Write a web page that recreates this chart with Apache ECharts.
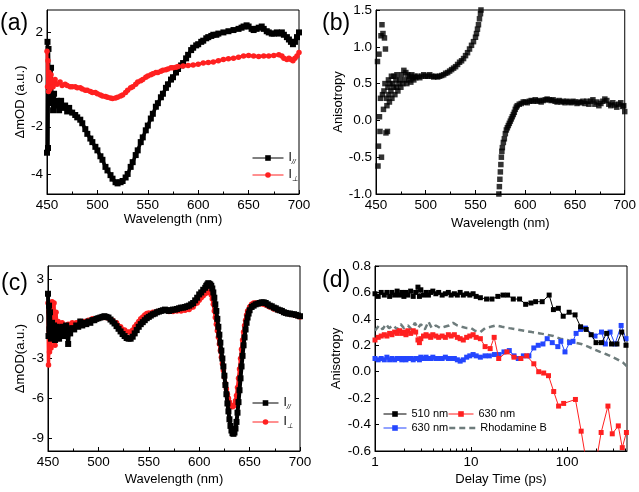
<!DOCTYPE html>
<html><head><meta charset="utf-8">
<script src="https://cdn.jsdelivr.net/npm/echarts@6/dist/echarts.min.js"></script>
<style>html,body{margin:0;padding:0;background:#fff}#c{width:639px;height:492px}</style>
</head><body><div id="c"></div>
<script>
// ---------- DATA ----------
const panelLabels = ['(a)', '(b)', '(c)', '(d)'];
const wavelengthTicks = [450, 500, 550, 600, 650, 700];
const aYTicks = [-4, -2, 0, 2];
const cYTicks = [-9, -6, -3, 0, 3];
const delayTicks = [1, 10, 100];
const delayMinorTicks = [2,3,4,5,6,7,8,9,20,30,40,50,60,70,80,90,200,300,400];
const dLegendNames = ['510 nm', '630 nm', '630 nm', 'Rhodamine B'];

// (a) I parallel
const aPar = [[450,-3.1],[450.5,1.6],[451,-2.9],[451.5,1.3],[452,-0.5],[453,-1.0],[454,0.5],[455,-0.8],[456,-1.3],[457,-0.6],[458,-1.1],[460,-0.9],[462,-1.3],[464,-0.9],[466,-1.2],[468,-1.1],[470,-1.35],[472,-1.2],[475,-1.4],[478,-1.5],[480,-1.6],[483,-1.7],[485,-1.85],[488,-2.1],[490,-2.3],[493,-2.5],[495,-2.65],[498,-2.85],[500,-3.0],[503,-3.25],[505,-3.4],[508,-3.7],[510,-3.85],[513,-4.05],[515,-4.2],[518,-4.35],[520,-4.4],[523,-4.35],[525,-4.3],[528,-4.15],[530,-4.0],[533,-3.7],[535,-3.5],[538,-3.2],[540,-3.0],[543,-2.65],[545,-2.45],[548,-2.15],[550,-1.95],[553,-1.65],[555,-1.45],[558,-1.15],[560,-1.0],[563,-0.75],[565,-0.6],[568,-0.35],[570,-0.2],[573,0.0],[575,0.1],[578,0.3],[580,0.45],[583,0.6],[585,0.7],[588,0.9],[590,1.05],[593,1.25],[595,1.35],[598,1.45],[600,1.5],[603,1.6],[605,1.65],[608,1.75],[610,1.8],[613,1.85],[615,1.9],[618,1.9],[620,1.95],[625,2.0],[630,2.05],[635,2.1],[640,2.15],[643,2.2],[645,2.25],[648,2.3],[650,2.25],[653,2.15],[655,2.1],[658,2.15],[660,2.2],[663,2.25],[665,2.15],[668,2.05],[670,2.0],[673,1.95],[675,1.95],[678,2.0],[680,1.95],[683,2.0],[685,1.9],[688,1.8],[690,1.7],[692,1.6],[694,1.5],[696,1.6],[698,1.8],[700,2.0]];
// (a) I perpendicular
const aPerp = [[450,1.2],[450.5,-0.3],[451,0.8],[451.5,-0.5],[452,0.3],[453,-0.4],[454,0.2],[455,-0.1],[456,-0.3],[458,0.0],[460,-0.2],[463,-0.1],[465,-0.25],[468,-0.2],[470,-0.25],[473,-0.3],[475,-0.3],[478,-0.3],[480,-0.35],[483,-0.35],[485,-0.4],[488,-0.45],[490,-0.45],[493,-0.5],[495,-0.55],[498,-0.55],[500,-0.6],[503,-0.65],[505,-0.7],[508,-0.72],[510,-0.75],[513,-0.78],[515,-0.8],[518,-0.78],[520,-0.75],[523,-0.7],[525,-0.65],[528,-0.55],[530,-0.45],[533,-0.35],[535,-0.3],[538,-0.2],[540,-0.1],[543,-0.05],[545,0.0],[548,0.1],[550,0.15],[553,0.2],[555,0.25],[558,0.3],[560,0.3],[563,0.35],[565,0.4],[568,0.42],[570,0.45],[573,0.5],[575,0.5],[578,0.52],[580,0.55],[585,0.58],[590,0.6],[595,0.62],[600,0.65],[605,0.7],[610,0.72],[615,0.75],[620,0.8],[625,0.85],[630,0.88],[635,0.9],[640,0.95],[645,1.0],[650,1.02],[655,1.0],[660,0.98],[665,1.0],[670,1.0],[675,1.02],[680,1.05],[683,1.0],[685,0.9],[688,0.85],[690,0.9],[692,0.85],[694,0.8],[696,0.9],[698,1.0],[700,1.15]];

// (b) anisotropy
const bAniso = [[451.5,0.8],[452,-0.62],[452.5,-0.35],[453,0.9],[453.5,0.05],[454,-0.15],[454.5,0.3],[455,1.15],[455.5,-0.5],[456,1.3],[456.5,0.35],[457,1.18],[457.5,0.15],[458,0.4],[458.5,1.12],[459,0.5],[459.5,0.97],[460,-0.17],[460.5,0.3],[461,0.2],[461.5,-0.15],[462,0.45],[462.5,0.55],[463,0.35],[463.5,0.25],[464,0.5],[465,0.4],[465.5,0.6],[466,0.3],[467,0.5],[467.5,0.45],[468,0.6],[469,0.35],[470,0.55],[470.5,0.45],[471,0.62],[472,0.4],[473,0.5],[474,0.55],[475,0.45],[476,0.62],[477,0.5],[478,0.68],[479,0.55],[480,0.65],[481,0.5],[482,0.62],[483,0.55],[484,0.6],[485,0.52],[486,0.62],[487,0.58],[488,0.55],[489,0.6],[490,0.58],[492,0.6],[494,0.58],[496,0.6],[498,0.62],[500,0.6],[502,0.6],[504,0.62],[506,0.6],[508,0.59],[510,0.6],[512,0.59],[514,0.6],[516,0.61],[518,0.62],[520,0.64],[522,0.65],[524,0.67],[526,0.69],[528,0.71],[530,0.73],[532,0.76],[534,0.79],[536,0.81],[538,0.84],[540,0.88],[542,0.92],[544,0.97],[546,1.02],[548,1.07],[550,1.13],[551,1.18],[552,1.24],[553,1.3],[554,1.38],[555,1.45],[555.5,1.5],
[573.5,-1.0],[574,-0.9],[574.5,-0.8],[575,-0.7],[575.5,-0.6],[576,-0.5],[576.5,-0.42],[577,-0.37],[578,-0.3],[579,-0.25],[580,-0.18],[581,-0.13],[582,-0.1],[583,-0.07],[584,-0.04],[585,-0.01],[586,0.02],[587,0.05],[588,0.08],[589,0.11],[590,0.15],[591,0.18],[592,0.2],[594,0.22],[596,0.23],[598,0.25],[600,0.25],[602,0.24],[604,0.26],[606,0.27],[608,0.26],[610,0.28],[612,0.26],[614,0.27],[616,0.25],[618,0.27],[620,0.28],[622,0.29],[624,0.28],[626,0.27],[628,0.28],[630,0.26],[632,0.25],[634,0.27],[636,0.25],[638,0.26],[640,0.24],[642,0.26],[644,0.25],[646,0.24],[648,0.26],[650,0.25],[652,0.23],[654,0.25],[656,0.24],[658,0.26],[660,0.23],[662,0.26],[664,0.22],[666,0.26],[668,0.28],[670,0.22],[672,0.25],[674,0.2],[676,0.23],[678,0.26],[680,0.29],[682,0.27],[684,0.22],[686,0.2],[688,0.24],[690,0.21],[692,0.18],[694,0.22],[696,0.24],[698,0.19],[699,0.2],[700,0.12]];

// (c) I parallel
const cPar = [[450,1.9],[450.5,-1.3],[451,1.0],[451.5,-0.8],[452,0.5],[453,-1.5],[454,-0.3],[455,-1.0],[456,-0.5],[457,-1.6],[458,-0.6],[459,-1.2],[460,-0.7],[461,-1.5],[462,-0.9],[463,-1.2],[464,-0.6],[465,-1.3],[466,-0.8],[467,-1.0],[468,-0.5],[469,-1.0],[470,-1.9],[471,-0.8],[472,-1.1],[474,-0.7],[476,-0.8],[478,-0.5],[480,-0.6],[482,-0.2],[484,-0.5],[486,-0.3],[488,-0.4],[490,-0.2],[492,-0.3],[494,-0.1],[496,-0.1],[498,0.0],[500,0.05],[502,0.1],[504,0.15],[506,0.2],[508,0.15],[510,0.1],[512,-0.05],[514,-0.2],[516,-0.35],[518,-0.55],[520,-0.75],[522,-0.95],[524,-1.15],[526,-1.3],[528,-1.45],[530,-1.5],[532,-1.5],[534,-1.35],[536,-1.1],[538,-0.85],[540,-0.6],[542,-0.4],[544,-0.25],[546,-0.1],[548,0.05],[550,0.15],[552,0.25],[554,0.35],[556,0.4],[558,0.5],[560,0.55],[562,0.6],[564,0.65],[566,0.7],[568,0.65],[570,0.6],[572,0.65],[574,0.7],[576,0.7],[578,0.75],[580,0.8],[582,0.85],[584,0.85],[586,0.9],[588,0.95],[590,1.0],[592,1.1],[594,1.2],[596,1.4],[598,1.6],[600,1.85],[602,2.0],[604,2.2],[606,2.35],[607,2.5],[608,2.6],[609,2.7],[610,2.65],[611,2.6],[612,2.5],[613,2.3],[614,2.0],[615,1.6],[616,1.1],[617,0.6],[618,0.0],[619,-0.6],[620,-1.2],[621,-1.8],[622,-2.4],[623,-3.0],[624,-3.6],[625,-4.3],[626,-5.0],[627,-5.7],[628,-6.4],[629,-7.0],[630,-7.6],[631,-8.1],[632,-8.45],[633,-8.65],[634,-8.7],[635,-8.6],[636,-8.3],[637,-7.8],[638,-7.1],[639,-6.3],[640,-5.4],[641,-4.5],[642,-3.6],[643,-2.8],[644,-2.0],[645,-1.4],[646,-0.8],[647,-0.3],[648,0.1],[649,0.4],[650,0.65],[652,0.9],[654,1.0],[656,1.1],[658,1.15],[660,1.2],[662,1.25],[664,1.25],[666,1.2],[668,1.1],[670,1.0],[672,0.95],[674,0.85],[676,0.8],[678,0.7],[680,0.65],[682,0.6],[684,0.5],[686,0.45],[688,0.4],[690,0.4],[692,0.35],[694,0.35],[696,0.3],[698,0.25],[700,0.2]];
// (c) I perpendicular
const cPerp = [[450,1.2],[450.5,-3.5],[451,0.5],[451.5,-2.5],[452,1.0],[453,-2.2],[454,1.3],[455,-1.0],[456,1.2],[457,-2.0],[458,0.5],[459,-1.0],[460,-0.2],[461,-1.5],[462,-0.5],[463,-0.9],[464,-0.3],[465,-0.8],[466,-0.5],[468,-0.7],[470,-0.4],[472,-0.6],[474,-0.3],[476,-0.5],[478,-0.3],[480,-0.4],[482,-0.2],[484,-0.4],[486,-0.2],[488,-0.3],[490,-0.1],[494,0.0],[498,0.0],[502,0.1],[506,0.1],[510,0.05],[514,-0.1],[518,-0.3],[522,-0.6],[526,-0.85],[530,-1.0],[532,-1.0],[534,-0.85],[536,-0.6],[538,-0.4],[540,-0.2],[542,0.0],[544,0.15],[546,0.3],[548,0.4],[550,0.45],[554,0.5],[558,0.55],[562,0.6],[566,0.65],[570,0.55],[574,0.55],[578,0.6],[582,0.6],[586,0.65],[590,0.7],[594,0.9],[598,1.2],[600,1.4],[602,1.6],[604,1.75],[606,1.9],[608,2.0],[610,2.05],[611,1.95],[612,1.8],[613,1.5],[614,1.1],[615,0.6],[616,0.1],[617,-0.4],[618,-0.9],[619,-1.4],[620,-1.9],[621,-2.4],[622,-2.9],[623,-3.4],[624,-3.9],[625,-4.4],[626,-4.9],[627,-5.3],[628,-5.7],[629,-6.0],[630,-6.3],[631,-6.5],[632,-6.6],[633,-6.65],[634,-6.6],[635,-6.5],[636,-6.2],[637,-5.8],[638,-5.2],[639,-4.5],[640,-3.8],[641,-3.0],[642,-2.3],[643,-1.6],[644,-1.0],[645,-0.5],[646,-0.1],[647,0.3],[648,0.6],[650,0.9],[652,1.1],[654,1.2],[656,1.2],[658,1.2],[660,1.15],[662,1.15],[664,1.1],[666,1.05],[668,1.0],[670,0.9],[674,0.75],[678,0.65],[682,0.55],[686,0.45],[690,0.35],[694,0.3],[698,0.2],[700,0.15]];

// (d) anisotropy decays
const d510 = [[1,0.59],[1.08,0.57],[1.16,0.6],[1.25,0.58],[1.33,0.6],[1.42,0.57],[1.5,0.6],[1.6,0.58],[1.7,0.61],[1.8,0.58],[1.9,0.6],[2.0,0.57],[2.1,0.6],[2.2,0.58],[2.35,0.61],[2.5,0.57],[2.65,0.6],[2.8,0.64],[2.9,0.57],[3.0,0.62],[3.2,0.58],[3.4,0.6],[3.6,0.58],[3.8,0.6],[4.0,0.61],[4.3,0.59],[4.6,0.6],[5.0,0.58],[5.4,0.59],[5.8,0.6],[6.2,0.58],[6.7,0.59],[7.2,0.58],[7.7,0.6],[8.3,0.58],[9.0,0.59],[9.7,0.58],[10.5,0.59],[11.3,0.57],[12.5,0.56],[14.5,0.55],[16.5,0.55],[19,0.57],[21.5,0.58],[24,0.58],[27.5,0.55],[32,0.55],[37,0.51],[42,0.52],[47,0.53],[55,0.53],[65,0.58],[72,0.47],[81,0.48],[91,0.42],[105,0.45],[121,0.43],[138,0.34],[158,0.32],[178,0.28],[200,0.22],[228,0.22],[258,0.29],[290,0.21],[330,0.21],[370,0.3],[410,0.2]];
const d630r = [[1,0.24],[1.08,0.26],[1.16,0.27],[1.25,0.28],[1.33,0.27],[1.42,0.29],[1.5,0.28],[1.6,0.3],[1.7,0.29],[1.8,0.31],[1.9,0.29],[2.0,0.3],[2.1,0.28],[2.2,0.31],[2.35,0.29],[2.5,0.31],[2.65,0.3],[2.8,0.24],[2.9,0.22],[3.0,0.25],[3.2,0.27],[3.4,0.28],[3.6,0.27],[3.8,0.26],[4.0,0.28],[4.3,0.27],[4.6,0.26],[5.0,0.27],[5.4,0.26],[5.8,0.28],[6.2,0.27],[6.7,0.28],[7.2,0.26],[7.7,0.25],[8.3,0.24],[9.0,0.26],[9.7,0.27],[10.5,0.28],[11.3,0.26],[12.5,0.25],[14,0.19],[15.8,0.175],[17.4,0.26],[19.4,0.1],[23.6,0.15],[28,0.11],[33,0.1],[38,0.12],[45,0.06],[50.6,0.0],[57,-0.01],[64,-0.03],[72.5,-0.15],[81.5,-0.26],[92,-0.24],[122,-0.21],[140,-0.45],[178,-0.9],[226,-0.46],[266,-0.26],[295,-0.47],[341,-0.41],[375,-0.575],[414,-0.46]];
const d630b = [[1,0.1],[1.08,0.09],[1.16,0.1],[1.25,0.09],[1.33,0.11],[1.42,0.09],[1.5,0.1],[1.6,0.09],[1.7,0.1],[1.8,0.1],[1.9,0.09],[2.0,0.1],[2.1,0.09],[2.2,0.1],[2.35,0.1],[2.5,0.09],[2.65,0.1],[2.8,0.1],[2.9,0.09],[3.0,0.11],[3.2,0.1],[3.4,0.11],[3.6,0.1],[3.8,0.1],[4.0,0.11],[4.3,0.1],[4.6,0.1],[5.0,0.1],[5.4,0.11],[5.8,0.1],[6.2,0.1],[6.7,0.1],[7.2,0.09],[7.7,0.08],[8.3,0.09],[9.0,0.11],[9.7,0.12],[10.5,0.13],[11.3,0.12],[12.5,0.11],[14,0.12],[15.5,0.12],[17.5,0.13],[19.5,0.13],[22,0.15],[25,0.16],[28,0.12],[31,0.1],[35,0.12],[40,0.12],[45,0.18],[50,0.2],[56,0.21],[62,0.25],[70,0.22],[80,0.19],[86,0.23],[95,0.15],[106,0.22],[115,0.23],[124,0.29],[138,0.32],[155,0.33],[195,0.27],[228,0.3],[250,0.21],[280,0.3],[315,0.21],[365,0.35],[410,0.25]];
const dRhB = [[1,0.31],[1.1,0.35],[1.2,0.32],[1.3,0.36],[1.4,0.33],[1.55,0.35],[1.7,0.32],[1.85,0.36],[2.0,0.33],[2.2,0.35],[2.4,0.32],[2.6,0.37],[2.8,0.33],[3.0,0.36],[3.3,0.32],[3.6,0.38],[3.9,0.33],[4.3,0.35],[4.8,0.33],[5.3,0.34],[5.9,0.35],[6.5,0.37],[7.2,0.35],[8,0.34],[9,0.33],[10,0.33],[11,0.31],[12.5,0.3],[14,0.33],[16,0.34],[18,0.35],[21,0.34],[25,0.33],[30,0.32],[36,0.31],[43,0.3],[52,0.29],[62,0.28],[72,0.27],[85,0.25],[100,0.24],[120,0.22],[140,0.21],[165,0.19],[190,0.17],[220,0.15],[260,0.13],[300,0.11],[340,0.09],[380,0.07],[420,0.04]];

// ---------- CHART ----------
const FONT = 'Liberation Sans, Arial, Helvetica, sans-serif';
const BLACK = '#000', RED = '#ff2020', BLUE = '#2446ff', GREY = '#6e7c7c';
const TICK = 13.5, NAMEF = 13;

function axLine() { return { show: true, onZero: false, lineStyle: { color: BLACK, width: 1 } }; }

function wlAxis(gi, gap) {
  return {
    type: 'value', gridIndex: gi, min: 450, max: 700, interval: 50,
    name: 'Wavelength (nm)', nameLocation: 'middle', nameGap: gap,
    nameTextStyle: { fontSize: NAMEF, color: BLACK, fontFamily: FONT },
    axisLine: axLine(),
    axisTick: { inside: true, length: 4, lineStyle: { color: BLACK } },
    minorTick: { show: true, splitNumber: 2, length: 2.5, lineStyle: { color: BLACK } },
    axisLabel: { color: BLACK, fontSize: TICK, margin: 4, fontFamily: FONT, customValues: wavelengthTicks },
    splitLine: { show: false }, minorSplitLine: { show: false }
  };
}
function yAxis(gi, name, gap, min, max, extra) {
  return Object.assign({
    type: 'value', gridIndex: gi, min: min, max: max,
    name: name, nameLocation: 'middle', nameGap: gap,
    nameTextStyle: { fontSize: NAMEF, color: BLACK, fontFamily: FONT },
    axisLine: axLine(),
    splitLine: { show: false }
  }, extra);
}
function yLabel(custom, fmt) {
  const o = { color: BLACK, fontSize: TICK, margin: 4, fontFamily: FONT };
  if (custom) o.customValues = custom;
  if (fmt) o.formatter = fmt;
  return o;
}
function yTick(custom) {
  const o = { inside: true, length: 4, lineStyle: { color: BLACK } };
  if (custom) o.customValues = custom;
  return o;
}

const subRich = {
  i: { fontSize: 12, color: BLACK, fontFamily: FONT },
  s: { fontSize: 7, color: BLACK, fontFamily: FONT, fontStyle: 'italic', padding: [8, 0, 0, 0] }
};
function legendOne(name, left, top, w, fmt, rich, extra) {
  return Object.assign({
    data: [name], left: left, top: top, padding: 0, itemWidth: w, itemHeight: 7, itemGap: 0,
    selectedMode: false, orient: 'horizontal',
    lineStyle: { width: 1 },
    textStyle: Object.assign({ color: BLACK, fontSize: 11, fontFamily: FONT, lineHeight: 14 }, rich ? { rich: rich } : {}),
    formatter: fmt
  }, extra || {});
}
const parFmt = () => '{i|I}{s|//}';
const perpFmt = () => '{i|I}{s|\u22A5}';

function lineSeries(name, xi, yi, data, color, sym, symSize, lw, extra) {
  return Object.assign({
    type: 'line', name: name, xAxisIndex: xi, yAxisIndex: yi, data: data,
    symbol: sym, symbolSize: symSize, showSymbol: sym !== 'none',
    lineStyle: { color: color, width: lw }, itemStyle: { color: color },
    animation: false, silent: true
  }, extra || {});
}

const option = {
  animation: false,
  backgroundColor: '#fff',
  textStyle: { fontFamily: FONT },
  grid: [
    { left: 47, top: 10, width: 252, height: 184, show: true, borderColor: BLACK, borderWidth: 1 },
    { left: 376, top: 10, width: 251, height: 184, show: true, borderColor: BLACK, borderWidth: 1 },
    { left: 48, top: 266, width: 252, height: 185, show: true, borderColor: BLACK, borderWidth: 1 },
    { left: 375, top: 266, width: 252, height: 185, show: true, borderColor: BLACK, borderWidth: 1 }
  ],
  xAxis: [
    wlAxis(0, 19),
    wlAxis(1, 23),
    wlAxis(2, 22),
    {
      type: 'log', gridIndex: 3, min: 1, max: 420, logBase: 10, position: 'bottom',
      name: 'Delay Time (ps)', nameLocation: 'middle', nameGap: 22,
      nameTextStyle: { fontSize: NAMEF, color: BLACK, fontFamily: FONT },
      axisLine: axLine(),
      axisTick: { inside: true, length: 4, lineStyle: { color: BLACK } },
      axisLabel: { color: BLACK, fontSize: TICK, margin: 4, fontFamily: FONT, showMaxLabel: false,
                   formatter: v => (delayTicks.indexOf(Math.round(v)) >= 0 ? String(Math.round(v)) : '') },
      splitLine: { show: false }
    },
    {
      type: 'log', gridIndex: 3, min: 1, max: 420, logBase: 10, position: 'bottom',
      axisLine: { show: false, onZero: false },
      axisTick: { inside: true, length: 2.5, lineStyle: { color: BLACK }, customValues: delayMinorTicks },
      axisLabel: { show: false },
      splitLine: { show: false }
    }
  ],
  yAxis: [
    yAxis(0, '\u0394mOD (a.u.)', 20, -4.85, 2.95, { axisLabel: yLabel(aYTicks), axisTick: yTick(aYTicks) }),
    yAxis(1, 'Anisotropy', 31, -1, 1.5, { interval: 0.5, axisLabel: yLabel(null, v => v.toFixed(1)), axisTick: yTick(null) }),
    yAxis(2, '\u0394mOD(a.u.)', 21, -10, 4, { axisLabel: yLabel(cYTicks), axisTick: yTick(cYTicks) }),
    yAxis(3, 'Anisotropy', 32, -0.6, 0.8, { interval: 0.2, axisLabel: yLabel(null, v => v.toFixed(1)), axisTick: yTick(null) })
  ],
  legend: [
    legendOne('a_par', 252, 151, 31, parFmt, subRich),
    legendOne('a_perp', 252, 168, 31, perpFmt, subRich),
    legendOne('c_par', 252, 396, 26, parFmt, subRich),
    legendOne('c_perp', 252, 415, 26, perpFmt, subRich),
    legendOne('d510', 383, 407, 23, () => dLegendNames[0]),
    legendOne('d630r', 448, 407, 25, () => dLegendNames[1]),
    legendOne('d630b', 383, 421, 23, () => dLegendNames[2]),
    legendOne('dRhB', 448, 421, 26, () => dLegendNames[3], null,
      { itemStyle: { opacity: 0 }, lineStyle: { width: 2.5, type: [6, 4], color: GREY } })
  ],
  series: [
    lineSeries('a_par', 0, 0, aPar, BLACK, 'rect', 6, 3.5, { z: 2 }),
    lineSeries('a_perp', 0, 0, aPerp, RED, 'circle', 5.5, 3, { z: 3 }),
    { type: 'scatter', name: 'b', xAxisIndex: 1, yAxisIndex: 1, data: bAniso, symbol: 'rect', symbolSize: 5.5,
      itemStyle: { color: BLACK }, animation: false, silent: true },
    lineSeries('c_perp', 2, 2, cPerp, RED, 'circle', 5.5, 3.5, { z: 2 }),
    lineSeries('c_par', 2, 2, cPar, BLACK, 'rect', 6, 4, { z: 3 }),
    lineSeries('dRhB', 3, 3, dRhB, GREY, 'none', 0, 2.5, { z: 2, lineStyle: { color: GREY, width: 2.5, type: [6, 4] } }),
    lineSeries('d630b', 3, 3, d630b, BLUE, 'rect', 5, 1, { z: 3 }),
    lineSeries('d630r', 3, 3, d630r, RED, 'rect', 5, 1, { z: 4 }),
    lineSeries('d510', 3, 3, d510, BLACK, 'rect', 5, 1, { z: 5 })
  ],
  graphic: [
    { type: 'text', left: 0, top: 12, style: { text: panelLabels[0], fontSize: 23, fill: BLACK, fontFamily: FONT } },
    { type: 'text', left: 322, top: 12, style: { text: panelLabels[1], fontSize: 23, fill: BLACK, fontFamily: FONT } },
    { type: 'text', left: 1, top: 272, style: { text: panelLabels[2], fontSize: 23, fill: BLACK, fontFamily: FONT } },
    { type: 'text', left: 322, top: 269, style: { text: panelLabels[3], fontSize: 23, fill: BLACK, fontFamily: FONT } }
  ]
};

const chart = echarts.init(document.getElementById('c'), null, { renderer: 'canvas' });
chart.setOption(option);
</script></body></html>
